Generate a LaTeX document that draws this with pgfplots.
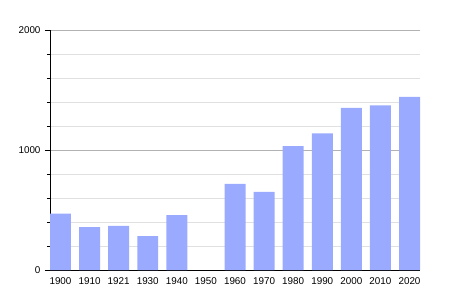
\documentclass[border=0pt]{standalone}
\usepackage{pgfplots}
\pgfplotsset{compat=1.18}
\usepackage{fontspec}
\setmainfont{Liberation Sans}
\definecolor{barc}{RGB}{153,170,255}
\begin{document}
\begin{tikzpicture}
\begin{axis}[
  scale only axis, width=370bp, height=240bp,
  xmin=-0.361, xmax=12.361, ymin=0, ymax=2000,
  axis x line*=bottom, axis y line*=left,
  axis line style={black, line width=0.8pt, -},
  xtick={0,...,12},
  xticklabels={1900,1910,1921,1930,1940,1950,1960,1970,1980,1990,2000,2010,2020},
  x tick style={draw=none},
  ytick={0,1000,2000},
  minor ytick={200,400,600,800,1200,1400,1600,1800},
  ymajorgrids, yminorgrids,
  major grid style={color=black!30, line width=0.8pt},
  minor grid style={color=black!12, line width=0.8pt},
  y tick style={black, line width=0.8pt},
  major tick length=5bp, minor tick length=3bp,
  tick align=outside,
  ticklabel style={font=\fontsize{9.9}{12}\selectfont},
  /pgf/number format/assume math mode=true,
  /pgf/number format/1000 sep={},
  yticklabel style={xshift=-1bp},
  xticklabel style={yshift=1bp},
  ybar, bar width=0.722, bar shift=0pt,
  clip=false,
]
\addplot[fill=barc, draw=none] coordinates {
 (0,469) (1,358) (2,367) (3,283) (4,458) (6,717) (7,650) (8,1033) (9,1139) (10,1350) (11,1372) (12,1442)
};
\end{axis}
\pgfresetboundingbox
\path ([shift={(-50bp,-30bp)}]current axis.south west) rectangle ([shift={(30bp,30bp)}]current axis.north east);
\end{tikzpicture}
\end{document}
